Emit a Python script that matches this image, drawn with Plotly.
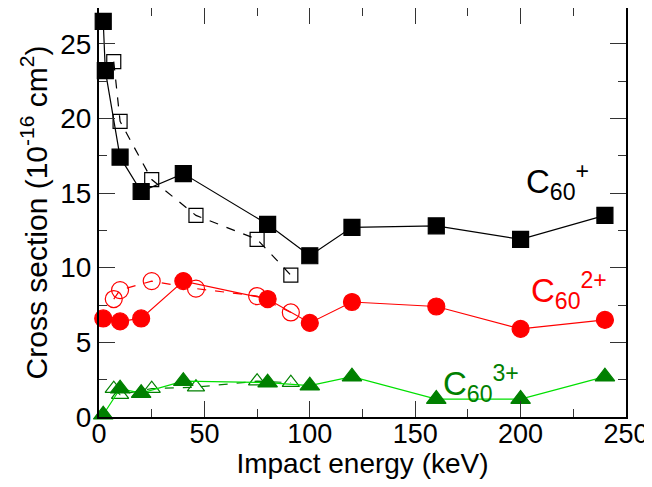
import plotly.graph_objects as go

# C60+ (filled, solid)
x_c1 = [2, 3, 10, 20, 40, 80, 100, 120, 160, 200, 240]
y_c1 = [26.5, 23.2, 17.4, 15.1, 16.3, 12.9, 10.8, 12.7, 12.8, 11.9, 13.5]
# C60+ (open, dashed)
x_c1o = [7, 10, 25, 46, 75, 91]
y_c1o = [23.8, 19.8, 15.9, 13.5, 11.9, 9.5]

# C60 2+
x_c2 = [2, 10, 20, 40, 80, 100, 120, 160, 200, 240]
y_c2 = [6.6, 6.4, 6.6, 9.1, 7.9, 6.3, 7.7, 7.4, 5.9, 6.5]
x_c2o = [7, 10, 25, 46, 75, 91]
y_c2o = [7.9, 8.5, 9.1, 8.6, 8.1, 7.0]

# C60 3+
x_c3 = [2, 10, 20, 40, 80, 100, 120, 160, 200, 240]
y_c3 = [0.15, 1.9, 1.6, 2.4, 2.3, 2.1, 2.7, 1.2, 1.2, 2.7]
x_c3o = [7, 10, 25, 46, 75, 91]
y_c3o = [1.9, 1.5, 1.9, 2.0, 2.4, 2.3]

FONT = "Liberation Sans, Arial, Helvetica, sans-serif"

fig = go.Figure()

def add(x, y, color, linecolor, symbol, dash, size, lw=1.2, mlw=1.2):
    fig.add_trace(go.Scatter(
        x=x, y=y, mode="lines+markers",
        line=dict(color=linecolor, width=lw, dash=dash),
        marker=dict(symbol=symbol, size=size, color=color,
                    line=dict(color=color, width=mlw)),
        showlegend=False, cliponaxis=False))

add(x_c1o, y_c1o, "black", "black", "square-open", "dash", 14)
add(x_c1, y_c1, "black", "black", "square", "solid", 16)
add(x_c2o, y_c2o, "red", "red", "circle-open", "dash", 17)
add(x_c2, y_c2, "red", "red", "circle", "solid", 17)
add(x_c3o, y_c3o, "green", "green", "triangle-up-open", "dash", 15)
add(x_c3, y_c3, "green", "#00e000", "triangle-up", "solid", 17)

def label(x, y, sup, color):
    fig.add_annotation(x=x, y=y, xref="x", yref="y", xanchor="left", yanchor="middle",
                       text=f"C<sub>60</sub><sup>{sup}</sup>", showarrow=False,
                       font=dict(family=FONT, size=33, color=color))

label(201.5, 15.8, "+", "black")
label(204, 8.45, "2+", "red")
label(162, 2.27, "3+", "green")

axis_common = dict(
    showgrid=False, zeroline=False, showline=True, linecolor="black", linewidth=2,
    mirror="allticks", ticks="inside", ticklen=16, tickwidth=1, tickcolor="#333333",
    automargin=False,
)

fig.update_xaxes(range=[0, 250], dtick=50, tick0=0, ticklabelstandoff=-8,
                 tickfont=dict(family=FONT, size=27, color="black"),
                 minor=dict(dtick=25, ticks="inside", ticklen=8, tickwidth=1, tickcolor="#333333"),
                 title=dict(text="Impact energy (keV)", font=dict(family=FONT, size=28, color="black"), standoff=8),
                 **axis_common)
fig.update_yaxes(range=[0, 27.39], dtick=5, tick0=0,
                 tickfont=dict(family=FONT, size=28, color="black"),
                 minor=dict(dtick=2.5, ticks="inside", ticklen=8, tickwidth=1, tickcolor="#333333"),
                 title=dict(text="Cross section (10<sup>-16</sup> cm<sup>2</sup>)",
                            font=dict(family=FONT, size=30, color="black"), standoff=4),
                 **axis_common)

# the page body has an 8px default margin, so the figure is sized to fit the window
fig.update_layout(width=644, height=471, margin=dict(l=91, r=26, t=0, b=62),
                  plot_bgcolor="white", paper_bgcolor="white")

fig.write_html("out.html")
